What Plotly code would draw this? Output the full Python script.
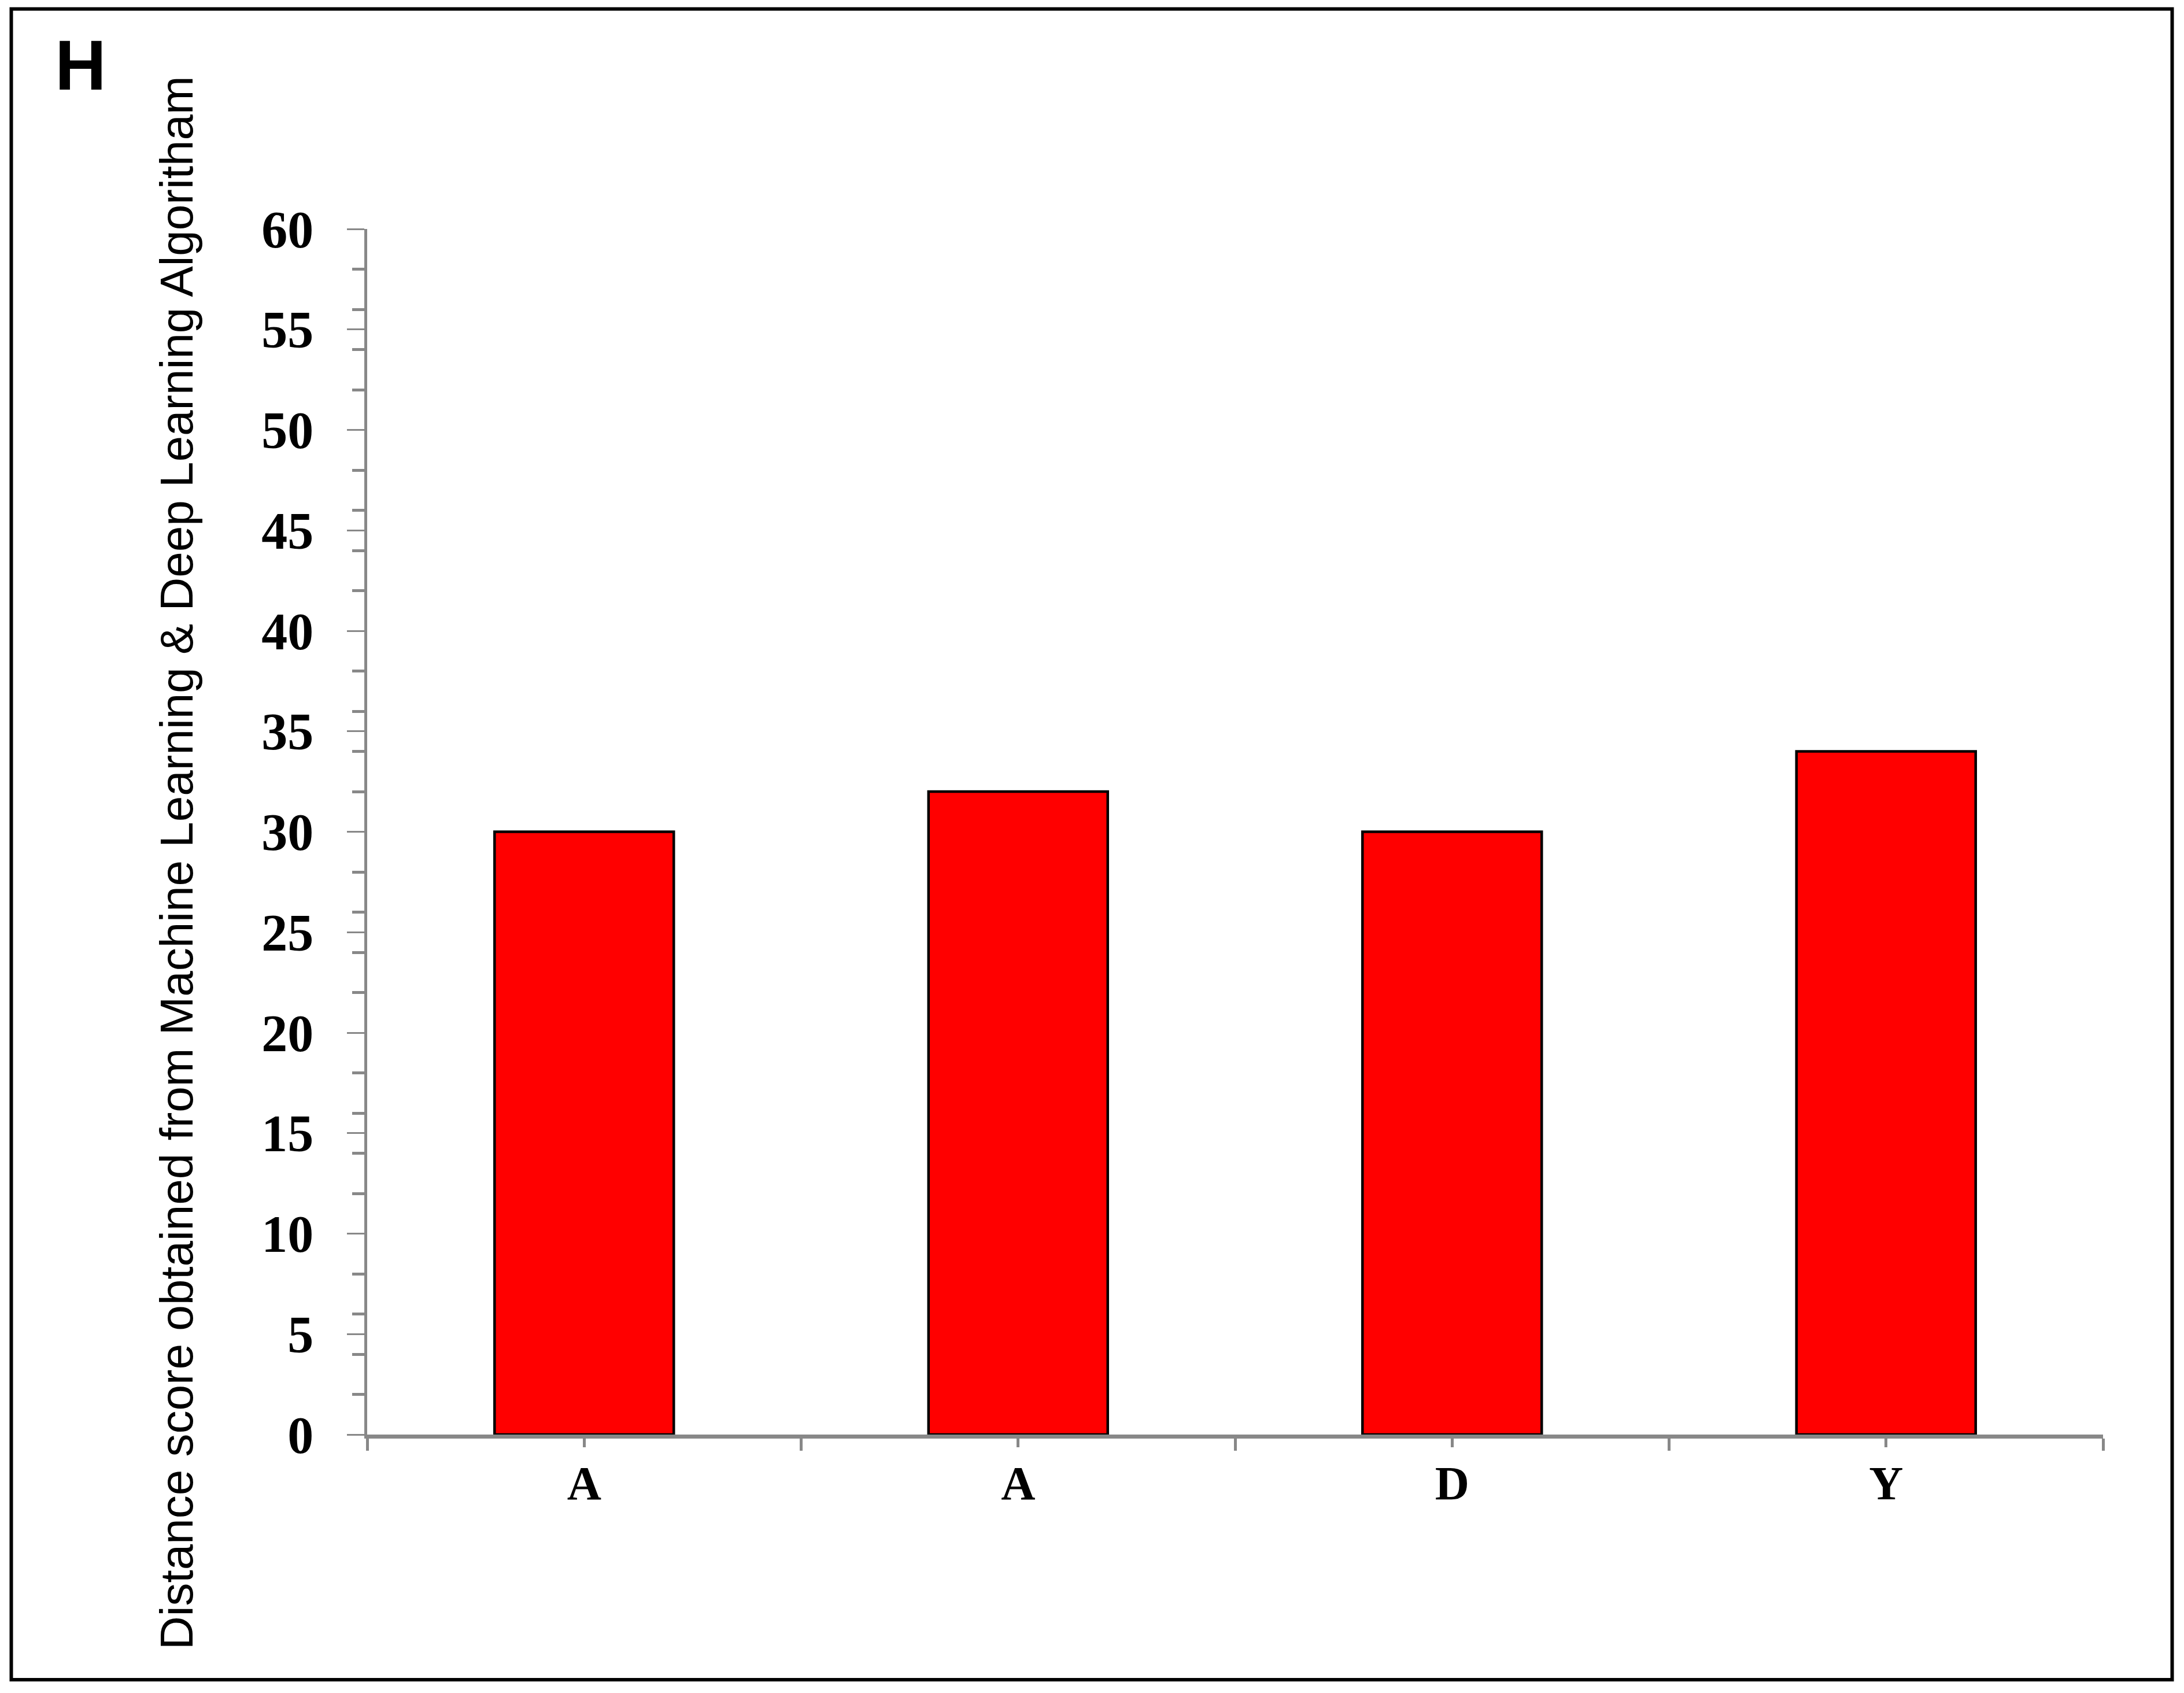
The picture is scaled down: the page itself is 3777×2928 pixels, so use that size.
import plotly.graph_objects as go

# ---- data ----
categories = ["A", "A", "D", "Y"]
positions = [0, 1, 2, 3]
scores = [30, 32, 30, 34]
y_title = "Distance score obtained from Machine Learning & Deep Learning Algoritham"
panel_label = "H"

OFF = 8  # default body margin of the html page
W, H = 3777 - 2 * OFF, 2928 - 2 * OFF
L, R, T, B = 635 - OFF, 3637 - OFF, 396 - OFF, 2481 - OFF  # plot area in figure pixels


def px(xp):
    return (xp - OFF - L) / (R - L)


def py(yp):
    return (B - (yp - OFF)) / (B - T)


fig = go.Figure()
fig.add_trace(go.Bar(
    x=positions, y=scores, width=0.413,
    marker=dict(color="#FF0000", line=dict(color="black", width=4.5)),
    showlegend=False,
))

axis_grey = "#888888"
fig.update_layout(
    width=W, height=H, autosize=False,
    margin=dict(l=L, r=W - R, t=T, b=H - B, pad=0),
    paper_bgcolor="white", plot_bgcolor="white",
    xaxis=dict(
        range=[-0.5, 3.5], tickvals=positions, ticktext=categories,
        ticks="outside", ticklen=15, tickwidth=5, tickcolor=axis_grey,
        showline=True, linecolor=axis_grey, linewidth=7,
        showgrid=False, zeroline=False,
        tickfont=dict(family="Liberation Serif", size=82, color="black", weight="bold"),
        ticklabelstandoff=-8,
        minor=dict(tick0=-0.5, dtick=1, ticks="outside", ticklen=21, tickwidth=5,
                   tickcolor=axis_grey, showgrid=False),
    ),
    yaxis=dict(
        range=[0, 60], tick0=0, dtick=5,
        ticks="outside", ticklen=30, tickwidth=3, tickcolor=axis_grey,
        showline=True, linecolor=axis_grey, linewidth=4.5,
        showgrid=False, zeroline=False,
        tickfont=dict(family="Liberation Serif", size=90, color="black", weight="bold"),
        ticklabelstandoff=40,
        minor=dict(tick0=0, dtick=2, ticks="outside", ticklen=21, tickwidth=5,
                   tickcolor=axis_grey, showgrid=False),
    ),
    shapes=[dict(
        type="rect", xref="paper", yref="paper",
        x0=px(19.5), x1=px(3756.5), y0=py(2905), y1=py(15.5),
        line=dict(color="black", width=6), fillcolor="rgba(0,0,0,0)", layer="below",
    )],
    annotations=[
        dict(text=y_title, xref="paper", yref="paper", x=px(305), y=py(1492),
             xanchor="center", yanchor="middle", textangle=-90, showarrow=False,
             font=dict(family="Liberation Sans", size=80, color="black")),
        dict(text=panel_label, xref="paper", yref="paper", x=px(139.5), y=py(112),
             xanchor="center", yanchor="middle", showarrow=False,
             font=dict(family="Liberation Sans", size=123, color="black", weight="bold")),
    ],
)

fig.write_html("out.html")
